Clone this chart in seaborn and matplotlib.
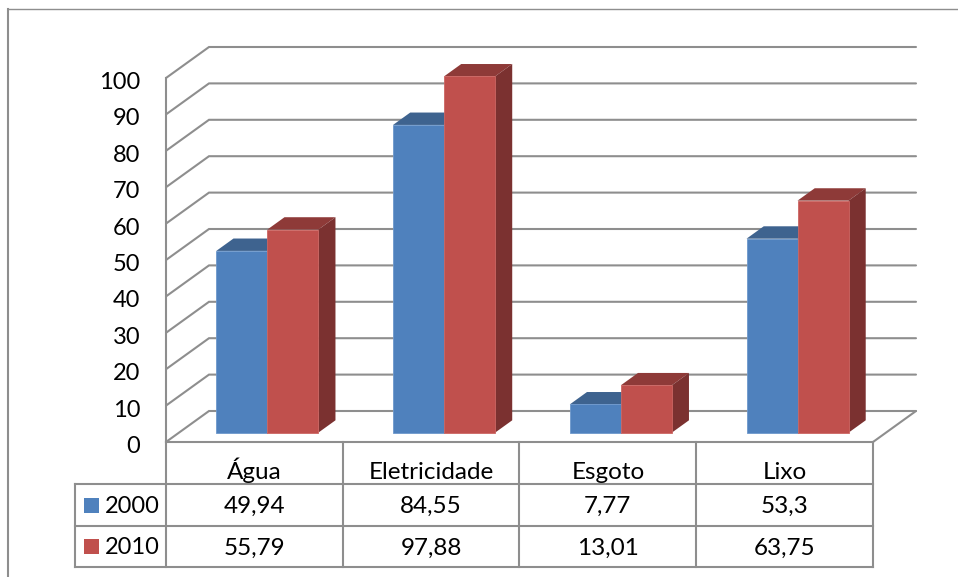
import matplotlib
matplotlib.use("Agg")
import matplotlib.pyplot as plt
from matplotlib.patches import Polygon, Rectangle
from matplotlib.transforms import Affine2D
import pandas as pd
import seaborn as sns

# Chart values
categories = ["Água", "Eletricidade", "Esgoto", "Lixo"]
years = ["2000", "2010"]
values_2000 = [49.94, 84.55, 7.77, 53.3]
values_2010 = [55.79, 97.88, 13.01, 63.75]
y_ticks = list(range(0, 101, 10))

# Colours
front_colors = {"2000": "#4F81BD", "2010": "#C0504D"}
edge_colors = {"2000": "#6D98CC", "2010": "#CC6663"}
top_colors = {"2000": "#3E638F", "2010": "#8E3A38"}
side_colors = {"2000": "#325377", "2010": "#7B3130"}
line_color = "#8E8E8E"
text_color = "#000000"

W, H = 958, 577
sns.set_theme(style="white")
plt.rcParams["font.family"] = ["Lato", "DejaVu Sans"]
FONT = 17.5

fig = plt.figure(figsize=(W / 100, H / 100), dpi=100, facecolor="white")
# Axes rectangle is the front wall of the 3-D box
LEFT, RIGHT, TOP, BOTTOM = 166, 873, 78, 442
ax = fig.add_axes([LEFT / W, 1 - BOTTOM / H, (RIGHT - LEFT) / W, (BOTTOM - TOP) / H])
ax.patch.set_alpha(0)

df = pd.DataFrame({
    "categoria": categories * 2,
    "ano": [years[0]] * 4 + [years[1]] * 4,
    "valor": values_2000 + values_2010,
})
sns.barplot(data=df, x="categoria", y="valor", hue="ano", order=categories,
            hue_order=years, palette=front_colors, width=0.577, gap=0,
            saturation=1, legend=False, ax=ax, zorder=3, linewidth=0)
ax.set_xlim(-0.5, 3.5)
ax.set_ylim(0, 100)
ax.set_xlabel("")
ax.set_ylabel("")

# Oblique depth of the box, in pixels on screen
DEPTH_X, DEPTH_Y = 43, 31
unit_x = (RIGHT - LEFT) / 4
unit_y = (BOTTOM - TOP) / 100
depth_dx = DEPTH_X / unit_x
depth_dy = DEPTH_Y / unit_y

# Walls and gridlines
for v in y_ticks:
    ax.plot([-0.5, -0.5 + depth_dx, 3.5 + depth_dx], [v, v + depth_dy, v + depth_dy],
            color=line_color, lw=1.5, clip_on=False, zorder=1, solid_joinstyle="miter")
ax.plot([3.5, 3.5 + depth_dx], [0, depth_dy], color=line_color, lw=1.5,
        clip_on=False, zorder=1)

# Bars sit part-way into the box and extend further back
BAR_START, BAR_DEPTH = 0.3, 0.4
shift = Affine2D().translate(BAR_START * DEPTH_X, BAR_START * DEPTH_Y)
bar_transform = ax.transData + shift
bar_dx = BAR_DEPTH * depth_dx
bar_dy = BAR_DEPTH * depth_dy
n = len(categories)
for i, patch in enumerate(ax.patches[:2 * n]):
    year = years[i // n]
    z = 3 + i // n
    x0, w, h = patch.get_x(), patch.get_width(), patch.get_height()
    patch.set_transform(bar_transform)
    patch.set_clip_on(False)
    patch.set_zorder(z + 0.2)
    patch.set_edgecolor(edge_colors[year])
    patch.set_linewidth(0.6)
    ax.add_patch(Polygon(
        [(x0, h), (x0 + w, h), (x0 + w + bar_dx, h + bar_dy), (x0 + bar_dx, h + bar_dy)],
        closed=True, facecolor=top_colors[year], edgecolor="none",
        transform=bar_transform, clip_on=False, zorder=z))
    ax.add_patch(Polygon(
        [(x0 + w, 0), (x0 + w + bar_dx, bar_dy), (x0 + w + bar_dx, h + bar_dy), (x0 + w, h)],
        closed=True, facecolor=side_colors[year], edgecolor="none",
        transform=bar_transform, clip_on=False, zorder=z + 0.1))

# Axis styling
sns.despine(ax=ax, top=True, right=True)
for name in ("left", "bottom"):
    ax.spines[name].set_color(line_color)
    ax.spines[name].set_linewidth(1.5)
ax.set_yticks(y_ticks)
ax.set_yticklabels([str(v) for v in y_ticks], fontsize=17, color=text_color, va="baseline")
ax.tick_params(axis="y", length=0, pad=18.5)
ax.set_xticks(range(n))
ax.set_xticklabels(categories, fontsize=FONT, color=text_color, va="baseline")
ax.tick_params(axis="x", length=0, pad=26.5)
label_nudge = Affine2D().translate(0, -11)
for label in ax.get_yticklabels():
    label.set_transform(label.get_transform() + label_nudge)

# Pixel coordinates with the origin at the top left, for the frame and data table
px = Affine2D().scale(1 / W, -1 / H).translate(0, 1) + fig.transFigure


def rule(xs, ys, lw=1.5, color=line_color):
    fig.add_artist(plt.Line2D(xs, ys, transform=px, color=color, lw=lw, zorder=2,
                              solid_capstyle="projecting"))


# Chart frame, open to the right and bottom
rule([8.5, 958], [9, 9], lw=1.0)
rule([8.5, 8.5], [9, 577], lw=1.5)

# Data table under the plot
ROW_Y = [484, 526, 567]
STUB_X = 75
col_x = [LEFT + unit_x * i for i in range(n + 1)]
for y in ROW_Y:
    rule([STUB_X, RIGHT], [y, y])
rule([STUB_X, STUB_X], [ROW_Y[0], ROW_Y[2]])
for x in col_x:
    rule([x, x], [BOTTOM, ROW_Y[2]])

BASELINE_DROP = 8
rows = [values_2000, values_2010]
for r, (year, row) in enumerate(zip(years, rows)):
    cy = (ROW_Y[r] + ROW_Y[r + 1]) / 2
    fig.add_artist(Rectangle((84, cy - 7.5), 15, 15, transform=px,
                             facecolor=front_colors[year], edgecolor="none"))
    fig.text(105, cy + BASELINE_DROP, year, transform=px, fontsize=17, color=text_color,
             ha="left", va="baseline")
    for i, v in enumerate(row):
        fig.text((col_x[i] + col_x[i + 1]) / 2, cy + BASELINE_DROP, f"{v:g}".replace(".", ","),
                 transform=px, fontsize=FONT, color=text_color,
                 ha="center", va="baseline")

fig.savefig("out.png", dpi=100, facecolor="white")
